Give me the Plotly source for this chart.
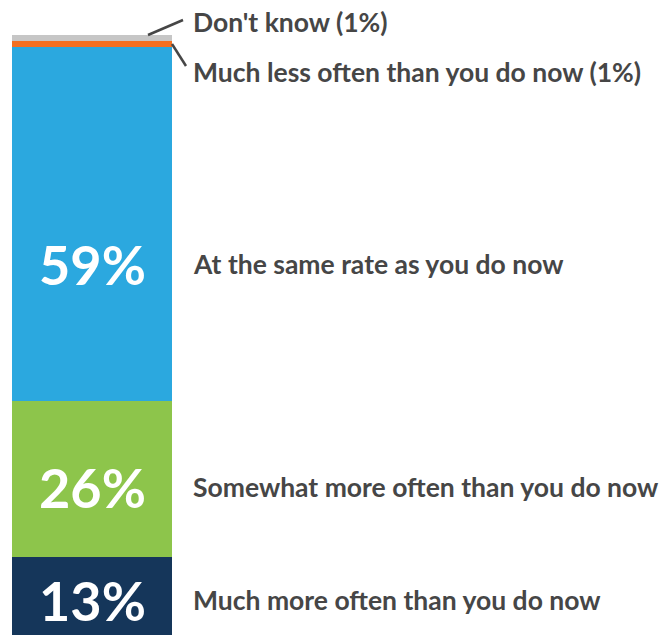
import plotly.graph_objects as go

categories = [
    "Much more often than you do now",
    "Somewhat more often than you do now",
    "At the same rate as you do now",
    "Much less often than you do now (1%)",
    "Don't know (1%)",
]
values = [13, 26, 59, 1, 1]
value_labels = ["13%", "26%", "59%", "", ""]
colors = ["#15365A", "#8DC54B", "#2BA8DF", "#F36F21", "#C6C6C6"]

W, H = 667, 635
FONT = "Lato"
TXT = "#464646"
LABEL_SIZE = 26.5

fig = go.Figure()
for cat, v, c in zip(categories, values, colors):
    fig.add_trace(go.Bar(x=[0], y=[v], name=cat, marker=dict(color=c, line=dict(width=0)),
                         width=1, hoverinfo="skip"))

bottoms = []
acc = 0
for v in values:
    bottoms.append(acc)
    acc += v
centers = [b + v / 2 for b, v in zip(bottoms, values)]
top = acc

# x range so the bar (width 1 at x=0) spans pixels 12..172
px_per_unit = 160.0
x0 = -0.5 - 12 / px_per_unit
x1 = x0 + W / px_per_unit
label_px = 191

plot_top, plot_h = 35, 600


def py_to_paper(py):
    return (plot_top + plot_h - py) / plot_h


yshifts = [-4, -8, -40]
annotations = []
for i in range(3):
    annotations.append(dict(x=0, y=centers[i], xref="x", yref="y", text=value_labels[i],
                            showarrow=False, yshift=yshifts[i],
                            font=dict(family=FONT, size=54, color="white", weight="bold"),
                            xanchor="center", yanchor="middle"))
    annotations.append(dict(x=label_px / W, y=centers[i], xref="paper", yref="y",
                            text=categories[i], showarrow=False, yshift=yshifts[i],
                            xanchor="left", yanchor="middle",
                            font=dict(family=FONT, size=LABEL_SIZE, color=TXT, weight="bold")))

annotations.append(dict(x=label_px / W, y=py_to_paper(22), xref="paper", yref="paper",
                        text=categories[4], showarrow=False, xanchor="left", yanchor="middle",
                        font=dict(family=FONT, size=LABEL_SIZE, color=TXT, weight="bold")))
annotations.append(dict(x=label_px / W, y=py_to_paper(72), xref="paper", yref="paper",
                        text=categories[3], showarrow=False, xanchor="left", yanchor="middle",
                        font=dict(family=FONT, size=LABEL_SIZE, color=TXT, weight="bold")))

shapes = [
    dict(type="line", xref="paper", yref="paper",
         x0=148 / W, y0=top / 100, x1=183 / W, y1=py_to_paper(20),
         line=dict(color=TXT, width=2.5)),
    dict(type="line", xref="paper", yref="paper",
         x0=172 / W, y0=centers[3] / 100, x1=186 / W, y1=py_to_paper(66),
         line=dict(color=TXT, width=2.5)),
]

fig.update_layout(
    barmode="stack",
    width=W, height=H,
    margin=dict(l=0, r=0, t=plot_top, b=H - plot_top - plot_h),
    paper_bgcolor="white", plot_bgcolor="white",
    showlegend=False,
    xaxis=dict(range=[x0, x1], visible=False, fixedrange=True),
    yaxis=dict(range=[0, 100], visible=False, fixedrange=True),
    annotations=annotations,
    shapes=shapes,
    bargap=0,
)

fig.write_html("out.html", config={"displayModeBar": False},
               post_script="document.body.style.margin='0';")
